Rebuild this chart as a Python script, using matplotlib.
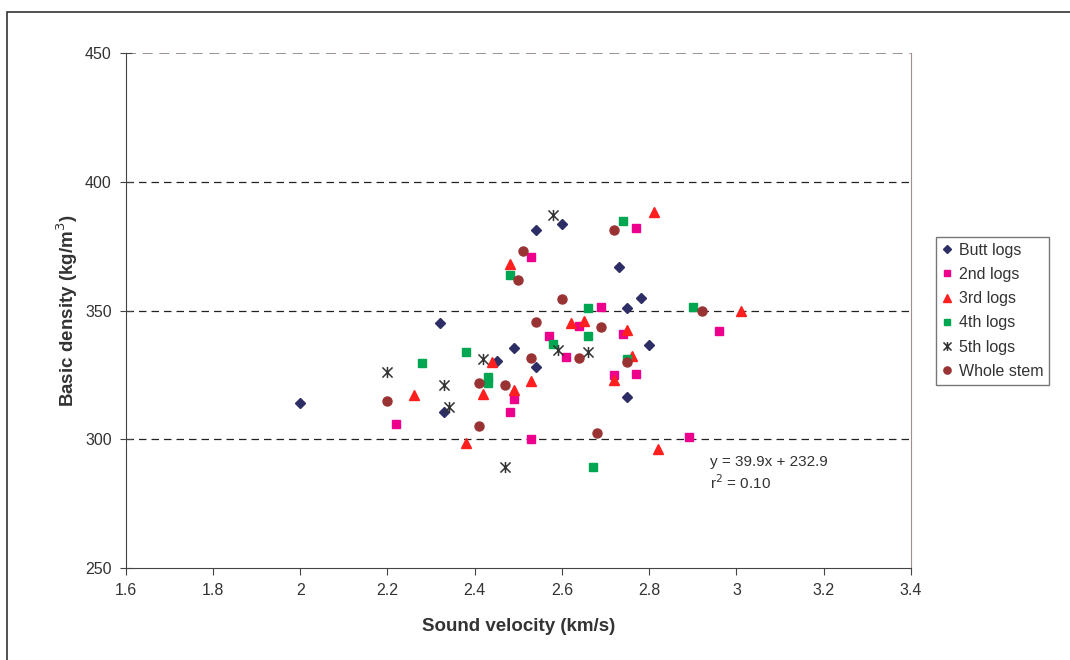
import matplotlib.pyplot as plt
from matplotlib.patches import Rectangle
from matplotlib.path import Path

plt.rcParams['font.family'] = ['Liberation Sans', 'DejaVu Sans']

# data (sound velocity km/s, basic density kg/m3)
butt_x = [2.00, 2.32, 2.33, 2.45, 2.49, 2.54, 2.54, 2.60, 2.73, 2.75, 2.75, 2.78, 2.80]
butt_y = [314, 345.3, 310.5, 330.5, 335.5, 381.5, 328, 383.5, 367, 351, 316.5, 355, 336.5]

second_x = [2.22, 2.48, 2.49, 2.53, 2.53, 2.57, 2.61, 2.64, 2.69, 2.72, 2.74, 2.77, 2.77, 2.89, 2.96]
second_y = [306, 310.5, 315.5, 371, 300, 340, 332, 344, 351.5, 325, 341, 382, 325.5, 301, 342]

third_x = [2.26, 2.38, 2.42, 2.44, 2.48, 2.49, 2.53, 2.62, 2.65, 2.72, 2.75, 2.76, 2.81, 2.82, 3.01]
third_y = [317, 298.5, 317.5, 330, 368, 319, 322.5, 345, 346, 323, 342.5, 332.5, 388.5, 296, 350]

fourth_x = [2.28, 2.38, 2.43, 2.43, 2.48, 2.58, 2.66, 2.66, 2.67, 2.74, 2.75, 2.90]
fourth_y = [329.5, 334, 324, 322, 364, 337, 351, 340, 289, 385, 331, 351.5]

fifth_x = [2.20, 2.33, 2.34, 2.42, 2.47, 2.58, 2.59, 2.66]
fifth_y = [326, 321, 312.5, 331, 289, 387, 334.5, 334]

whole_x = [2.20, 2.41, 2.41, 2.47, 2.50, 2.51, 2.53, 2.54, 2.60, 2.64, 2.68, 2.69, 2.72, 2.75, 2.92]
whole_y = [315, 322, 305, 321, 362, 373, 331.5, 345.5, 354.5, 331.5, 302.5, 343.5, 381.5, 330, 350]

xticks = [1.6, 1.8, 2.0, 2.2, 2.4, 2.6, 2.8, 3.0, 3.2, 3.4]
xtick_labels = ['1.6', '1.8', '2', '2.2', '2.4', '2.6', '2.8', '3', '3.2', '3.4']
yticks = [250, 300, 350, 400, 450]

txt = '#333333'

# excel style asterisk: an X with a vertical bar through it
star = Path([(-1, -1), (1, 1), (-1, 1), (1, -1), (0, -1.1), (0, 1.1)],
            [Path.MOVETO, Path.LINETO, Path.MOVETO, Path.LINETO, Path.MOVETO, Path.LINETO])

fig = plt.figure(figsize=(10.7, 6.6), dpi=100)
ax = fig.add_axes([0.1175, 0.1397, 0.7339, 0.7795])

# outer chart border (right and bottom edges fall outside the picture)
fig.patches.append(Rectangle((7 / 1070, -0.05), 1.1, 1 - 12 / 660 + 0.05,
                             transform=fig.transFigure, fill=False,
                             edgecolor='#333333', linewidth=1.2))

for y in [300, 350, 400]:
    ax.axhline(y, color='#222222', linestyle=(0, (6, 4)), linewidth=0.9, zorder=1)
ax.axhline(450, color='#8a8080', linestyle=(0, (6, 4)), linewidth=1.2, zorder=1)

ax.plot(butt_x, butt_y, 'D', color='#2e2e66', markersize=5.2, label='Butt logs', zorder=3)
ax.plot(second_x, second_y, 's', color='#ec008c', markersize=6, label='2nd logs', zorder=3)
ax.plot(third_x, third_y, '^', color='#ff1f1f', markersize=6.5, label='3rd logs', zorder=3)
ax.plot(fourth_x, fourth_y, 's', color='#00a651', markersize=6, label='4th logs', zorder=3)
ax.plot(fifth_x, fifth_y, linestyle='none', marker=star, color='#333333',
        markersize=8, markeredgewidth=1.1, label='5th logs', zorder=3)
ax.plot(whole_x, whole_y, 'o', color='#993333', markersize=6.5, label='Whole stem', zorder=3)

ax.set_xlim(1.6, 3.4)
ax.set_ylim(250, 450)
ax.set_xticks(xticks)
ax.set_xticklabels(xtick_labels)
ax.set_yticks(yticks)

ax.spines['top'].set_visible(False)
ax.spines['right'].set_color('#a09090')
ax.spines['left'].set_color('#444444')
ax.spines['bottom'].set_color('#444444')
ax.tick_params(axis='x', direction='out', length=5, colors='#444444', labelcolor=txt,
               labelsize=11.5, pad=6)
ax.tick_params(axis='y', direction='inout', length=8, colors='#444444', labelcolor=txt,
               labelsize=11.5, pad=6)

ax.set_xlabel('Sound velocity (km/s)', fontsize=13.5, fontweight='bold', color=txt, labelpad=14)
ax.set_ylabel('Basic density (kg/m$^3$)', fontsize=13.5, fontweight='bold', color=txt, labelpad=3.5)

ax.text(2.94, 291.3, 'y = 39.9x + 232.9', fontsize=11, color=txt, va='center')
ax.text(2.94, 283.0, 'r$^2$ = 0.10', fontsize=11, color=txt, va='center')

leg = fig.legend(loc='upper left', bbox_to_anchor=(936 / 1070, 1 - 237 / 660),
                 fontsize=11.5, frameon=True, fancybox=False, edgecolor='#555555',
                 handlelength=0.7, handletextpad=0.4, borderpad=0.35, labelspacing=0.58,
                 markerscale=0.8, borderaxespad=0)
for t in leg.get_texts():
    t.set_color(txt)

fig.savefig('out.png', dpi=100)
